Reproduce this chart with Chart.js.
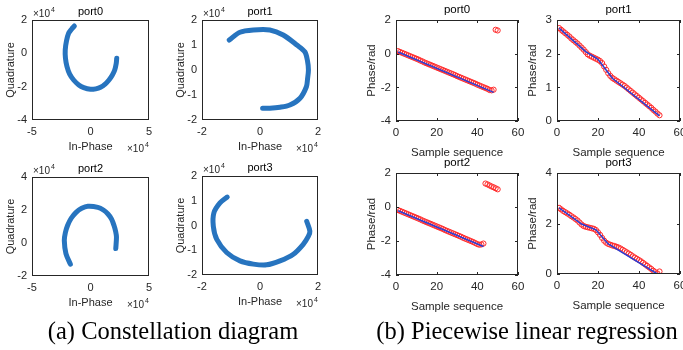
<!DOCTYPE html>
<html><head><meta charset="utf-8">
<script src="https://cdn.jsdelivr.net/npm/chart.js@4"></script>
<style>
html,body{margin:0;padding:0;background:#fff;width:683px;height:350px;overflow:hidden;position:relative}
canvas{position:absolute}
.cap{position:absolute;font-family:"Liberation Serif","Times New Roman",serif;font-size:24.5px;color:#000;white-space:nowrap;transform:translateX(-50%);line-height:25px}
</style></head><body>
<canvas id="c0"></canvas><canvas id="c1"></canvas><canvas id="c2"></canvas><canvas id="c3"></canvas>
<canvas id="p0"></canvas><canvas id="p1"></canvas><canvas id="p2"></canvas><canvas id="p3"></canvas>
<div class="cap" style="left:173px;top:318px">(a) Constellation diagram</div>
<div class="cap" style="left:527px;top:318px">(b) Piecewise linear regression</div>
<script>
// ---- Constellation data (raw units, axes shown x10^4) ----
const port0I = [-13800,-16200,-18700,-20500,-21600,-21400,-20100,-17800,-14400,-10000,-5800,0,4500,8600,12500,15800,18700,20700,22000,22400];
const port0Q = [16400,14500,12000,7500,2000,-3000,-8000,-12500,-16000,-19000,-20600,-21600,-21300,-20400,-18500,-16000,-13000,-10000,-6000,-3000];
const port1I = [-10600,-6900,-2300,3400,8000,12700,15500,16400,16700,16400,16000,13800,10300,6900,3400,900];
const port1Q = [12000,15100,16000,16000,14000,10000,7200,3500,0,-3500,-6700,-11300,-14000,-14900,-15300,-15300];
const port2I = [-17200,-21000,-22400,-21500,-19600,-16500,-12300,-7500,-2300,6300,11000,14900,18000,20100,21500,22200,21600];
const port2Q = [-12800,-6400,1600,6200,10600,15000,18600,21000,22200,21600,20000,17600,14500,10600,7000,3600,-3400];
const port3I = [-11300,-13800,-15900,-16100,-14900,-11500,-6900,-2300,2300,6900,11500,14900,16700,17200,16100];
const port3Q = [11500,9100,5100,-300,-5600,-10900,-14300,-15600,-15900,-14300,-11600,-7600,-4300,-2300,1700];

// ---- Phase data ----
const seq = [1,2,3,4,5,6,7,8,9,10,11,12,13,14,15,16,17,18,19,20,21,22,23,24,25,26,27,28,29,30,31,32,33,34,35,36,37,38,39,40,41,42,43,44,45,46,47,48,49,50];
const phase0 = [0.15,0.10,0.05,0.00,-0.05,-0.10,-0.15,-0.20,-0.25,-0.30,-0.35,-0.41,-0.46,-0.52,-0.57,-0.62,-0.67,-0.72,-0.77,-0.82,-0.87,-0.92,-0.97,-1.02,-1.07,-1.12,-1.17,-1.22,-1.27,-1.33,-1.38,-1.43,-1.48,-1.53,-1.58,-1.63,-1.68,-1.73,-1.78,-1.84,-1.89,-1.94,-1.99,-2.04,-2.09,-2.16,-2.18,-2.14,1.42,1.38];
const phase1 = [2.76,2.71,2.66,2.61,2.56,2.51,2.45,2.40,2.35,2.30,2.24,2.18,2.12,2.05,1.98,1.94,1.91,1.88,1.85,1.82,1.78,1.72,1.62,1.52,1.42,1.34,1.28,1.24,1.20,1.16,1.12,1.08,1.04,0.99,0.94,0.89,0.84,0.79,0.74,0.69,0.64,0.59,0.54,0.49,0.44,0.39,0.33,0.28,0.22,0.17];
const phase2 = [-0.18,-0.23,-0.28,-0.33,-0.38,-0.43,-0.48,-0.53,-0.58,-0.63,-0.68,-0.73,-0.79,-0.84,-0.89,-0.94,-0.99,-1.04,-1.09,-1.14,-1.19,-1.24,-1.29,-1.35,-1.40,-1.45,-1.50,-1.55,-1.60,-1.65,-1.70,-1.75,-1.81,-1.86,-1.91,-1.96,-2.01,-2.06,-2.12,-2.18,-2.22,-2.20,-2.15,1.38,1.33,1.27,1.21,1.16,1.10,1.04];
const phase3 = [2.62,2.56,2.50,2.45,2.40,2.35,2.29,2.24,2.18,2.12,2.04,1.96,1.90,1.87,1.85,1.83,1.81,1.79,1.74,1.65,1.55,1.43,1.32,1.24,1.19,1.16,1.13,1.11,1.08,1.05,1.01,0.96,0.91,0.86,0.81,0.76,0.70,0.65,0.60,0.55,0.50,0.44,0.38,0.32,0.26,0.20,0.13,0.07,0.02,0.10];
// regression fits (breakpoints)
const fit0X = [1,48], fit0Y = [0.10,-2.30];
const fit1X = [1,14,20,27,50], fit1Y = [2.76,2.06,1.83,1.27,0.15];
const fit2X = [1,43], fit2Y = [-0.22,-2.32];
const fit3X = [1,12,19,25,49], fit3Y = [2.62,1.98,1.75,1.19,0.00];

const DARK = '#262626';
const SANS = '"Liberation Sans", Arial, sans-serif';
const zip = (xs, ys) => xs.map((x, i) => ({x, y: ys[i]}));

const frame = {
  id: 'frame',
  afterDraw(chart, args, o) {
    const {ctx, chartArea: a, scales} = chart;
    ctx.save();
    ctx.strokeStyle = o.color || DARK;
    ctx.lineWidth = 1;
    ctx.strokeRect(a.left + 0.5, a.top + 0.5, a.width - 1, a.height - 1);
    if (o.ticks) {
      ctx.beginPath();
      scales.x.ticks.forEach(t => {
        const p = Math.round(scales.x.getPixelForValue(t.value)) + 0.5;
        ctx.moveTo(p, a.bottom); ctx.lineTo(p, a.bottom - 3);
        ctx.moveTo(p, a.top); ctx.lineTo(p, a.top + 3);
      });
      scales.y.ticks.forEach(t => {
        const p = Math.round(scales.y.getPixelForValue(t.value)) + 0.5;
        ctx.moveTo(a.left, p); ctx.lineTo(a.left + 3, p);
        ctx.moveTo(a.right, p); ctx.lineTo(a.right - 3, p);
      });
      ctx.stroke();
    }
    ctx.fillStyle = '#000';
    ctx.font = o.titleFont;
    ctx.textAlign = 'center';
    ctx.textBaseline = 'alphabetic';
    ctx.fillText(o.title, (a.left + a.right) / 2, a.top - o.titleGap);
    if (o.exp) {
      ctx.fillStyle = DARK;
      const drawExp = (x, y) => {
        ctx.textAlign = 'left';
        ctx.font = '10px ' + SANS;
        ctx.fillText('\u00d710', x, y);
        const w = ctx.measureText('\u00d710').width;
        ctx.font = '7px ' + SANS;
        ctx.fillText('4', x + w + 1, y - 5);
      };
      drawExp(a.left + 1, a.top - 3);
      drawExp(a.right - 22, a.bottom + 32);
    }
    ctx.restore();
  }
};

function makeChart(id, c) {
  const L = c.L, T = 24, R = 12, B = 42;
  const cv = document.getElementById(id);
  cv.width = c.w + L + R; cv.height = c.h + T + B;
  cv.style.left = (c.left - L) + 'px'; cv.style.top = (c.top - T) + 'px';
  const font = {family: SANS, size: c.fs};
  new Chart(cv, {
    type: 'scatter',
    data: {datasets: c.datasets},
    options: {
      responsive: false, animation: false, devicePixelRatio: 1,
      layout: {padding: {top: T, right: R, left: 0, bottom: 0}},
      plugins: {legend: {display: false}, tooltip: {enabled: false},
        frame: {ticks: c.ticks, exp: c.exp, title: c.title, titleGap: c.titleGap, titleFont: c.fs + 'px ' + SANS}},
      scales: {
        x: {type: 'linear', min: c.xmin, max: c.xmax,
          afterFit(s) { s.height = B; },
          grid: {display: false, drawTicks: false}, border: {display: false},
          ticks: {stepSize: c.xstep, padding: c.xpad, color: DARK, font, autoSkip: false, maxRotation: 0,
            callback: v => c.exp ? String(v / 10000) : String(v)},
          title: {display: true, text: c.xtitle, color: DARK, font, padding: {top: 0, bottom: c.xtp}}},
        y: {type: 'linear', min: c.ymin, max: c.ymax,
          afterFit(s) { s.width = L; },
          grid: {display: false, drawTicks: false}, border: {display: false},
          ticks: {stepSize: c.ystep, padding: 5, color: DARK, font, autoSkip: false,
            callback: v => c.exp ? String(v / 10000) : String(v)},
          title: {display: true, text: c.ytitle, color: DARK, font, padding: {top: c.ytp, bottom: 0}}}
      }
    },
    plugins: [frame]
  });
}

const BLUE = '#2774bf';
function constDs(I, Q) {
  return [{data: zip(I, Q), showLine: true, borderColor: BLUE, borderWidth: 5,
    borderJoinStyle: 'round', borderCapStyle: 'round', pointRadius: 0, tension: 0.3}];
}
function phaseDs(fx, fy, p) {
  return [
    {data: zip(fx, fy), showLine: true, borderColor: '#2a3fd6', borderWidth: 1.5, pointRadius: 0},
    {data: zip(seq, p), showLine: false, pointRadius: 2.6, pointStyle: 'circle', backgroundColor: 'rgba(0,0,0,0)', borderColor: '#ff2a2a', borderWidth: 1}
  ];
}

const constBase = {L: 32, fs: 11, xtitle: 'In-Phase', ytitle: 'Quadrature', exp: true, ticks: false, titleGap: 5, xpad: 5, xtp: 8, ytp: 4.5};
makeChart('c0', Object.assign({}, constBase, {left: 32, top: 20, w: 117, h: 100, title: 'port0', xmin: -50000, xmax: 50000, xstep: 50000, ymin: -40000, ymax: 20000, ystep: 20000, datasets: constDs(port0I, port0Q)}));
makeChart('c1', Object.assign({}, constBase, {left: 202, top: 20, w: 116, h: 100, title: 'port1', xmin: -20000, xmax: 20000, xstep: 20000, ymin: -20000, ymax: 20000, ystep: 10000, datasets: constDs(port1I, port1Q)}));
makeChart('c2', Object.assign({}, constBase, {left: 32, top: 177, w: 117, h: 99, title: 'port2', xmin: -50000, xmax: 50000, xstep: 50000, ymin: -20000, ymax: 40000, ystep: 20000, datasets: constDs(port2I, port2Q)}));
makeChart('c3', Object.assign({}, constBase, {left: 202, top: 176, w: 116, h: 99, title: 'port3', xmin: -20000, xmax: 20000, xstep: 20000, ymin: -20000, ymax: 20000, ystep: 10000, datasets: constDs(port3I, port3Q)}));

const phaseBase = {L: 32, fs: 11.5, xtitle: 'Sample sequence', ytitle: 'Phase/rad', exp: false, ticks: true, titleGap: 7, xpad: 5, xtp: 3, ytp: 1, xmin: 0, xmax: 60, xstep: 20};
makeChart('p0', Object.assign({}, phaseBase, {left: 396, top: 20, w: 122, h: 101, title: 'port0', ymin: -4, ymax: 2, ystep: 2, datasets: phaseDs(fit0X, fit0Y, phase0)}));
makeChart('p1', Object.assign({}, phaseBase, {left: 557, top: 20, w: 123, h: 101, title: 'port1', ymin: 0, ymax: 3, ystep: 1, datasets: phaseDs(fit1X, fit1Y, phase1)}));
makeChart('p2', Object.assign({}, phaseBase, {left: 396, top: 173, w: 122, h: 102, title: 'port2', ymin: -4, ymax: 2, ystep: 2, datasets: phaseDs(fit2X, fit2Y, phase2)}));
makeChart('p3', Object.assign({}, phaseBase, {left: 557, top: 173, w: 123, h: 101, title: 'port3', ymin: 0, ymax: 4, ystep: 2, datasets: phaseDs(fit3X, fit3Y, phase3)}));
</script>
</body></html>
